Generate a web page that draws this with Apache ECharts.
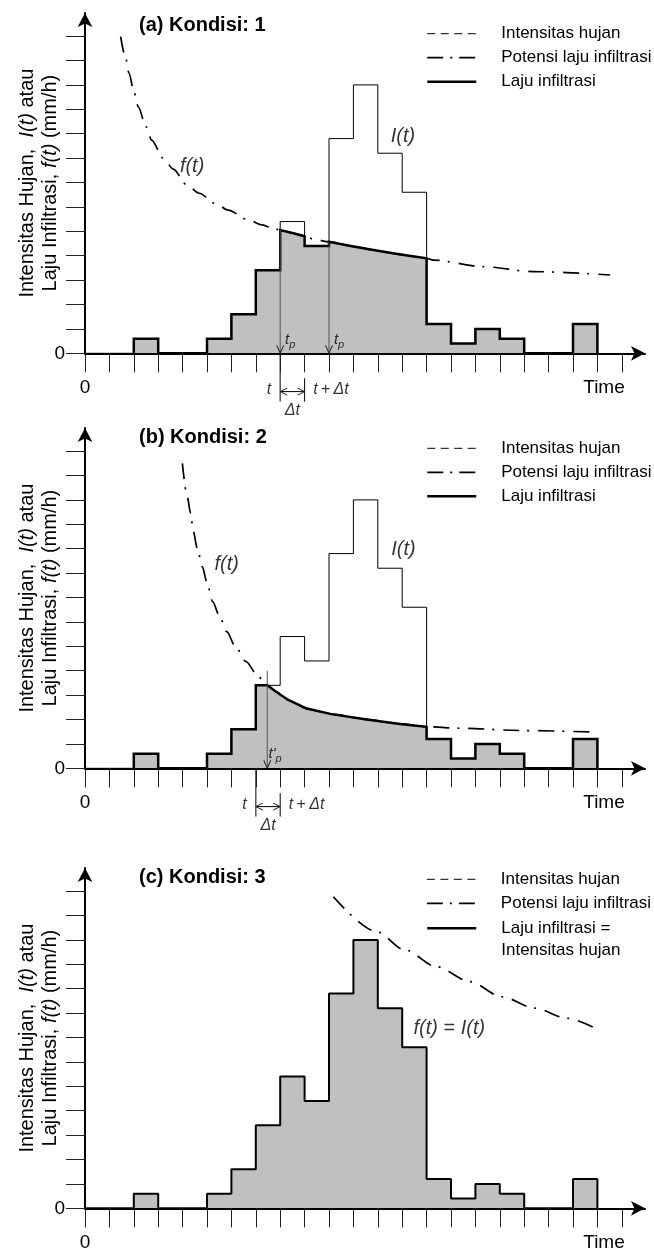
<!DOCTYPE html>
<html>
<head>
<meta charset="utf-8">
<script src="https://cdn.jsdelivr.net/npm/echarts@6/dist/echarts.min.js"></script>
<style>
  html, body { margin: 0; padding: 0; background: #fff; }
  #chart { width: 654px; height: 1254px; }
</style>
</head>
<body>
<div id="chart"></div>
<script>
// ---------- axis ticks and tick labels ----------
const timeTicks = [0, 1, 2, 3, 4, 5, 6, 7, 8, 9, 10, 11, 12, 13, 14, 15, 16, 17, 18, 19, 20, 21, 22];
const rateTicks = [0, 1, 2, 3, 4, 5, 6, 7, 8, 9, 10, 11, 12, 13];
const timeLabelAt = [0, 21.27];
const timeLabelText = ['0', 'Time'];
const rateLabelAt = [0];
const rateLabelText = ['0'];

// ---------- rainfall hyetograph (one value per time step, from t = 0) ----------
const rainIntensity = [0, 0, 0.6, 0, 0, 0.6, 1.6, 3.4, 5.4, 4.4, 8.8, 11.0, 8.2, 6.6, 1.2, 0.4, 1.0, 0.6, 0, 0, 1.2, 0];

// ---------- condition 1 ----------
const potentialA = [[1.46, 12.98], [1.67, 12.09], [1.80, 11.48], [2.02, 10.66], [2.18, 10.11], [2.50, 9.29],
  [2.73, 8.74], [3.21, 7.99], [3.62, 7.55], [4.14, 6.93], [4.68, 6.56], [5.33, 6.15], [5.87, 5.87],
  [6.63, 5.50], [7.25, 5.26], [7.62, 5.16], [8.0, 5.05], [8.5, 4.93], [9.0, 4.8], [9.39, 4.67], [10.0, 4.57],
  [11.0, 4.38], [12.0, 4.2], [13.0, 4.04], [14.0, 3.89], [14.28, 3.82], [16.32, 3.55], [18.37, 3.35], [21.52, 3.21]];
const infiltrationA = [[2, 0], [2, 0.6], [3, 0.6], [3, 0], [5, 0], [5, 0.6], [6, 0.6], [6, 1.6], [7, 1.6], [7, 3.4],
  [8, 3.4], [8, 5.05], [8.5, 4.93], [9, 4.8], [9, 4.4], [10, 4.4], [10, 4.57], [11, 4.38], [12, 4.2], [13, 4.04],
  [14, 3.89], [14, 1.2], [15, 1.2], [15, 0.4], [16, 0.4], [16, 1.0], [17, 1.0], [17, 0.6], [18, 0.6], [18, 0],
  [20, 0], [20, 1.2], [21, 1.2], [21, 0]];
const pondingA = [[8, 5.05], [10, 4.57]];
const stepA = [8, 9];

// ---------- condition 2 ----------
const potentialB = [[3.99, 12.5], [4.19, 11.13], [4.33, 10.45], [4.44, 9.7], [4.6, 9.02], [4.81, 8.26], [4.99, 7.65],
  [5.23, 6.83], [5.51, 6.25], [5.81, 5.6], [6.17, 4.98], [6.6, 4.37], [7.04, 3.86], [7.31, 3.59], [7.47, 3.4],
  [7.86, 3.12], [8.33, 2.8], [9.09, 2.45], [10.1, 2.22], [11.55, 2.0], [12.91, 1.82], [14.0, 1.7],
  [15.5, 1.64], [17.8, 1.55], [20.97, 1.48]];
const infiltrationB = [[2, 0], [2, 0.6], [3, 0.6], [3, 0], [5, 0], [5, 0.6], [6, 0.6], [6, 1.6], [7, 1.6], [7, 3.4],
  [7.47, 3.4], [7.86, 3.12], [8.33, 2.8], [9.09, 2.45], [10.1, 2.22], [11.55, 2.0], [12.91, 1.82], [14, 1.7],
  [14, 1.2], [15, 1.2], [15, 0.4], [16, 0.4], [16, 1.0], [17, 1.0], [17, 0.6], [18, 0.6], [18, 0],
  [20, 0], [20, 1.2], [21, 1.2], [21, 0]];
const pondingB = [[7.47, 4.0]];
const stepB = [7, 8];

// ---------- condition 3 ----------
const potentialC = [[10.18, 12.77], [11.95, 11.34], [13.11, 10.59], [14.41, 9.9], [15.78, 9.29], [17.08, 8.67],
  [18.44, 8.2], [19.74, 7.79], [20.97, 7.35]];

// ---------- layout ----------
const FONT = '"Liberation Sans", Arial, Helvetica, sans-serif';
const UNIT = 24.4;                 // pixels per time step / per rate tick
const X_END = 22.95, Y_END = 13.95;
const AXIS_Y = [353.3, 768.3, 1208.3];
const TITLE_Y = [25.5, 437.5, 877.5];
const LEGEND_Y = [33.7, 448.3, 879.3];
const GRAY = '#c0c0c0';

const RAIN = 'Intensitas hujan';
const POTENTIAL = 'Potensi laju infiltrasi';
const ACTUAL = 'Laju infiltrasi';
const EQUAL = 'Laju infiltrasi =\nIntensitas hujan';

const DASH_DOT = [16, 8, 2, 9];
const V_DOWN = 'path://M0,0L5,8L10,0';
const V_LEFT = 'path://M8,0L0,5L8,10';
const V_RIGHT = 'path://M0,0L8,5L0,10';

const RICH = {
  fn: { fontSize: 20, fontStyle: 'italic', fontFamily: FONT, color: '#000' },
  fu: { fontSize: 20, fontFamily: FONT, color: '#000' },
  v: { fontSize: 16, fontStyle: 'italic', fontFamily: FONT, color: '#000' },
  op: { fontSize: 16, fontFamily: FONT, color: '#000' },
  t: { fontSize: 15, fontStyle: 'italic', fontFamily: FONT, color: '#000', lineHeight: 15, verticalAlign: 'top' },
  sub: { fontSize: 11, fontStyle: 'italic', fontFamily: FONT, color: '#000', lineHeight: 11, verticalAlign: 'top', padding: [7, 0, 0, 0] }
};

function nearestLabel(v, at, text) {
  let best = 0;
  for (let k = 1; k < at.length; k++) if (Math.abs(at[k] - v) < Math.abs(at[best] - v)) best = k;
  return text[best];
}

const grids = AXIS_Y.map(y => ({
  left: 85, top: y - Y_END * UNIT, width: X_END * UNIT, height: Y_END * UNIT,
  containLabel: false, outerBoundsMode: 'none'
}));

const axisLineStyle = { color: '#000', width: 2 };

const xAxes = AXIS_Y.map((_, gi) => ({
  type: 'value', gridIndex: gi, min: 0, max: X_END, z: 5,
  axisLine: { show: true, onZero: false, lineStyle: axisLineStyle, symbol: ['none', 'arrow'], symbolSize: [11, 14] },
  axisTick: { show: true, inside: false, length: 19, customValues: timeTicks, lineStyle: { color: '#222', width: 1 } },
  axisLabel: {
    show: true, customValues: timeLabelAt, margin: 25, fontSize: 19, color: '#000', fontFamily: FONT,
    formatter: v => nearestLabel(v, timeLabelAt, timeLabelText)
  },
  splitLine: { show: false }
}));

const yAxes = AXIS_Y.map((_, gi) => ({
  type: 'value', gridIndex: gi, min: 0, max: Y_END, z: 5,
  name: 'Intensitas Hujan,  {i|I(t)} atau\nLaju Infiltrasi, {i|f(t)} (mm/h)',
  nameLocation: 'middle', nameRotate: 90, nameGap: 23, nameMoveOverlap: false,
  nameTextStyle: {
    fontSize: 20, lineHeight: 23, color: '#000', fontFamily: FONT, align: 'center',
    rich: { i: { fontSize: 20, lineHeight: 23, fontStyle: 'italic', color: '#000', fontFamily: FONT } }
  },
  axisLine: { show: true, onZero: false, lineStyle: axisLineStyle, symbol: ['none', 'arrow'], symbolSize: [11, 14] },
  axisTick: { show: true, inside: false, length: 19, customValues: rateTicks, lineStyle: { color: '#222', width: 1 } },
  axisLabel: {
    show: true, customValues: rateLabelAt, margin: 20, fontSize: 19, color: '#000', fontFamily: FONT,
    formatter: v => nearestLabel(v, rateLabelAt, rateLabelText)
  },
  splitLine: { show: false }
}));

function axesOf(gi) { return { xAxisIndex: gi, yAxisIndex: gi }; }

function rainOutline(gi) {
  return Object.assign({
    name: RAIN, type: 'line', step: 'end', symbol: 'none', clip: false, z: 3, silent: true,
    lineStyle: { color: '#000', width: 1 },
    data: rainIntensity.map((v, k) => [k, v])
  }, axesOf(gi));
}

function actualInfiltration(gi, pts) {
  return Object.assign({
    name: ACTUAL, type: 'line', symbol: 'none', clip: false, z: 2, silent: true,
    lineStyle: { color: '#000', width: 2.5, join: 'miter' },
    areaStyle: { color: GRAY, opacity: 1 },
    data: pts
  }, axesOf(gi));
}

function potentialCurve(gi, pts) {
  return Object.assign({
    name: POTENTIAL, type: 'line', symbol: 'none', clip: false, z: 2, silent: true,
    smooth: 0.3, smoothMonotone: 'x',
    lineStyle: { color: '#000', width: 1.7, type: DASH_DOT },
    data: pts
  }, axesOf(gi));
}

// thin guide line with optional open arrowheads
function guide(gi, from, to, color, width, headFrom, headTo) {
  const item = (p, head) => head
    ? { value: p, symbol: head.symbol, symbolSize: head.size, symbolOffset: head.offset }
    : { value: p, symbol: 'none' };
  return Object.assign({
    type: 'line', clip: false, z: 4, silent: true, showSymbol: true,
    lineStyle: { color: color, width: width },
    itemStyle: { color: 'rgba(0,0,0,0)', borderColor: '#222', borderWidth: 1 },
    data: [item(from, headFrom), item(to, headTo)]
  }, axesOf(gi));
}

const headDown = { symbol: V_DOWN, size: [7, 8], offset: [0, -4] };
const headLeft = { symbol: V_LEFT, size: [7, 7], offset: [3.5, 0] };
const headRight = { symbol: V_RIGHT, size: [7, 7], offset: [-3.5, 0] };

function textMarks(gi, items) {
  return Object.assign({
    type: 'scatter', clip: false, z: 6, silent: true, symbolSize: 1,
    itemStyle: { color: 'rgba(0,0,0,0)' },
    label: { show: true, position: 'inside', color: '#000', fontFamily: FONT, rich: RICH },
    data: items.map(it => ({ value: it.at, label: { formatter: it.text, align: it.align || 'center' } }))
  }, axesOf(gi));
}

// time-step bracket under the axis: t, t + Δt and Δt
function stepBracket(gi, step) {
  const [t0, t1] = step;
  return [
    guide(gi, [t0, 0], [t0, -1.98], '#555', 1.5),
    guide(gi, [t1, -1.02], [t1, -1.98], '#000', 1),
    guide(gi, [t0, -1.57], [t1, -1.57], '#000', 1, headLeft, headRight),
    textMarks(gi, [
      { at: [t0 - 0.46, -1.5], text: '{v|t}' },
      { at: [t1 + 1.08, -1.5], text: '{v|t} {op|+} {v|Δt}' },
      { at: [(t0 + t1) / 2, -2.35], text: '{v|Δt}' }
    ])
  ];
}

const series = [
  // (a) condition 1
  actualInfiltration(0, infiltrationA),
  potentialCurve(0, potentialA),
  rainOutline(0),
  ...pondingA.map(p => guide(0, p, [p[0], 0], '#555', 1, null, headDown)),
  textMarks(0, [
    { at: [4.39, 7.67], text: '{fn|f(t)}' },
    { at: [13.03, 8.9], text: '{fn|I(t)}' },
    ...pondingA.map(p => ({ at: [p[0] + 0.2, 0.55], text: '{t|t}{sub|p}', align: 'left' }))
  ]),
  ...stepBracket(0, stepA),

  // (b) condition 2
  actualInfiltration(1, infiltrationB),
  potentialCurve(1, potentialB),
  rainOutline(1),
  ...pondingB.map(p => guide(1, p, [p[0], 0], '#555', 1, null, headDown)),
  textMarks(1, [
    { at: [5.81, 8.36], text: '{fn|f(t)}' },
    { at: [13.05, 8.98], text: '{fn|I(t)}' },
    ...pondingB.map(p => ({ at: [p[0] + 0.05, 0.6], text: "{t|t'}{sub|p}", align: 'left' }))
  ]),
  ...stepBracket(1, stepB),

  // (c) condition 3
  Object.assign({
    name: EQUAL, type: 'line', step: 'end', symbol: 'none', clip: false, z: 3, silent: true,
    lineStyle: { color: '#000', width: 2 },
    areaStyle: { color: GRAY, opacity: 1 },
    data: rainIntensity.map((v, k) => [k, v])
  }, axesOf(2)),
  potentialCurve(2, potentialC),
  textMarks(2, [
    { at: [14.93, 7.38], text: '{fn|f(t)}{fu| = }{fn|I(t)}' }
  ])
];

const hiddenSymbol = { color: 'rgba(0,0,0,0)', borderWidth: 0, opacity: 0 };
const legendText = { fontSize: 17, lineHeight: 17, color: '#000', fontFamily: FONT, padding: [0, 0, 0, 20] };
const legendItems = {
  [RAIN]: { name: RAIN, itemStyle: hiddenSymbol, lineStyle: { type: [8, 5.5], width: 1, color: '#000' } },
  [POTENTIAL]: { name: POTENTIAL, itemStyle: hiddenSymbol, lineStyle: { type: [16, 7, 2, 7], width: 1.7, color: '#000' } },
  [ACTUAL]: { name: ACTUAL, itemStyle: hiddenSymbol, lineStyle: { width: 2.5, color: '#000' } },
  [EQUAL]: { name: EQUAL, itemStyle: hiddenSymbol, lineStyle: { width: 2.5, color: '#000' },
             textStyle: { lineHeight: 22 } }
};
function legendBlock(top, names) {
  return {
    left: 426, top: top, orient: 'vertical', padding: 0, itemWidth: 49, itemHeight: 17, itemGap: 7,
    selectedMode: false, textStyle: legendText, itemStyle: hiddenSymbol,
    // a blank first line keeps the two-line entry's key aligned with its first line
    formatter: name => (name === EQUAL ? ' \n' + name : name),
    data: names.map(n => legendItems[n])
  };
}

const option = {
  animation: false,
  backgroundColor: '#fff',
  title: [
    { text: '(a) Kondisi: 1' }, { text: '(b) Kondisi: 2' }, { text: '(c) Kondisi: 3' }
  ].map((t, i) => Object.assign(t, {
    left: 139, top: TITLE_Y[i] - 10, padding: 0,
    textStyle: { fontSize: 20, lineHeight: 20, fontWeight: 'bold', color: '#000', fontFamily: FONT }
  })),
  legend: [
    legendBlock(LEGEND_Y[0] - 8.5, [RAIN, POTENTIAL, ACTUAL]),
    legendBlock(LEGEND_Y[1] - 8.5, [RAIN, POTENTIAL, ACTUAL]),
    legendBlock(LEGEND_Y[2] - 8.5, [RAIN, POTENTIAL]),
    legendBlock(LEGEND_Y[2] + 49 - 33, [EQUAL])
  ],
  grid: grids,
  xAxis: xAxes,
  yAxis: yAxes,
  series: series
};

const chart = echarts.init(document.getElementById('chart'), null, { renderer: 'canvas' });
chart.setOption(option);
</script>
</body>
</html>
